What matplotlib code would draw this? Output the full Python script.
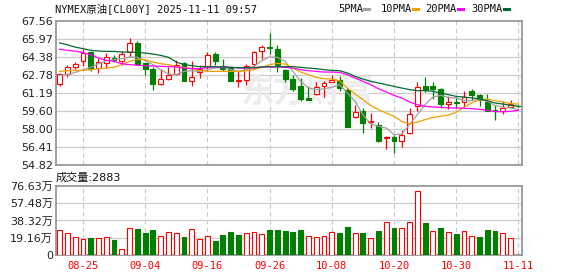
import matplotlib
matplotlib.use("Agg")
import matplotlib.pyplot as plt
from matplotlib.lines import Line2D

# ---- data (NYMEX crude, daily, last 60 sessions) ----
dates = ["08-20", "08-21", "08-22", "08-25", "08-26", "08-27", "08-28", "08-29", "09-01", "09-02",
         "09-03", "09-04", "09-05", "09-08", "09-09", "09-10", "09-11", "09-12", "09-15", "09-16",
         "09-17", "09-18", "09-19", "09-22", "09-23", "09-24", "09-25", "09-26", "09-29", "09-30",
         "10-01", "10-02", "10-03", "10-06", "10-07", "10-08", "10-09", "10-10", "10-13", "10-14",
         "10-15", "10-16", "10-17", "10-20", "10-21", "10-22", "10-23", "10-24", "10-27", "10-28",
         "10-29", "10-30", "10-31", "11-03", "11-04", "11-05", "11-06", "11-07", "11-10", "11-11"]

opens = [62.02, 62.91, 63.53, 64.00, 64.83, 63.41, 63.85, 64.30, 64.06, 64.80,
         65.63, 63.82, 63.32, 62.02, 62.46, 62.88, 63.85, 62.28, 63.05, 63.50,
         64.68, 63.62, 63.41, 62.22, 62.37, 63.76, 64.89, 65.24, 65.10, 63.20,
         62.43, 61.84, 60.75, 61.10, 61.78, 62.14, 62.34, 61.49, 59.03, 59.62,
         58.64, 58.32, 57.19, 57.28, 56.96, 57.64, 60.00, 61.78, 61.78, 61.55,
         60.24, 60.36, 60.36, 61.34, 60.98, 60.39, 59.71, 59.62, 59.98, 60.04]
highs = [62.97, 63.71, 63.97, 65.13, 64.89, 64.30, 64.71, 64.59, 64.89, 66.07,
         65.78, 63.88, 63.50, 63.35, 63.50, 64.15, 63.91, 64.00, 63.65, 64.83,
         64.80, 64.21, 63.47, 63.11, 63.76, 64.95, 65.42, 66.52, 65.48, 63.35,
         62.79, 62.52, 61.84, 62.14, 62.22, 62.82, 62.67, 61.63, 60.09, 59.86,
         59.41, 58.61, 57.34, 57.43, 57.93, 59.86, 62.17, 62.58, 62.17, 61.60,
         60.95, 60.83, 61.34, 61.55, 61.10, 61.10, 60.15, 60.45, 60.57, 60.10]
lows = [61.84, 62.58, 63.35, 63.62, 63.17, 62.97, 63.41, 63.91, 63.70, 64.42,
        63.71, 62.76, 61.49, 61.93, 62.37, 62.82, 62.22, 61.78, 62.52, 63.17,
        63.71, 63.17, 62.22, 61.69, 61.93, 63.41, 64.21, 64.65, 63.02, 62.17,
        61.40, 60.45, 60.60, 61.04, 60.80, 62.14, 61.34, 58.17, 58.97, 57.64,
        58.08, 56.81, 56.22, 55.86, 56.36, 57.55, 59.62, 61.25, 60.66, 59.86,
        59.77, 59.86, 59.92, 60.60, 60.00, 59.56, 58.82, 59.32, 59.92, 59.95]
closes = [62.88, 63.47, 63.76, 64.77, 63.32, 63.91, 64.36, 64.09, 64.65, 65.60,
          63.79, 63.35, 62.02, 62.43, 62.76, 63.71, 62.28, 62.58, 63.32, 64.53,
          64.06, 63.35, 62.28, 62.37, 63.62, 64.83, 65.27, 65.16, 63.71, 62.46,
          61.57, 60.66, 60.60, 61.69, 62.08, 62.37, 61.63, 58.17, 59.47, 58.53,
          58.73, 56.96, 57.28, 56.96, 57.49, 59.32, 61.69, 61.49, 61.55, 60.21,
          60.36, 60.33, 60.83, 61.04, 60.54, 59.62, 59.56, 59.86, 60.19, 60.00]

ma5 = [62.76, 62.82, 63.02, 63.26, 63.47, 63.79, 64.06, 64.15, 64.24, 64.39,
       64.36, 64.09, 63.71, 63.26, 62.88, 62.82, 63.11, 63.17, 63.11, 63.26,
       63.41, 63.47, 63.26, 63.11, 63.26, 63.56, 64.06, 64.39, 64.36, 64.00,
       63.11, 62.23, 61.63, 61.49, 61.57, 61.69, 61.93, 61.19, 60.45, 59.27,
       58.44, 58.23, 58.08, 57.49, 57.55, 58.38, 59.27, 60.15, 60.83, 60.98,
       60.80, 60.75, 60.51, 60.51, 60.60, 60.45, 60.09, 59.92, 59.86, 59.71]
ma10 = [63.11, 63.17, 63.20, 63.20, 63.26, 63.35, 63.41, 63.47, 63.71, 64.00,
        64.18, 64.15, 63.94, 63.79, 63.71, 63.53, 63.47, 63.35, 63.20, 63.11,
        63.11, 63.11, 63.11, 63.11, 63.17, 63.26, 63.47, 63.71, 63.82, 63.76,
        63.41, 63.05, 62.82, 62.58, 62.46, 62.43, 62.28, 61.63, 61.10, 60.60,
        60.09, 59.71, 59.41, 59.12, 58.67, 58.44, 58.61, 58.82, 59.03, 59.12,
        59.24, 59.47, 59.92, 60.30, 60.60, 60.66, 60.51, 60.39, 60.24, 60.21]
ma20 = [65.07, 64.98, 64.92, 64.77, 64.59, 64.30, 64.09, 64.00, 63.79, 63.71,
        63.65, 63.62, 63.59, 63.56, 63.53, 63.50, 63.41, 63.35, 63.35, 63.47,
        63.50, 63.50, 63.47, 63.41, 63.41, 63.41, 63.50, 63.50, 63.50, 63.47,
        63.41, 63.26, 63.17, 63.11, 63.05, 63.05, 63.02, 62.82, 62.52, 62.23,
        61.93, 61.57, 61.28, 60.98, 60.75, 60.39, 60.15, 60.01, 59.95, 59.92,
        59.86, 59.86, 59.83, 59.80, 59.74, 59.65, 59.53, 59.53, 59.56, 59.65]
ma30 = [65.63, 65.48, 65.27, 65.13, 64.98, 64.92, 64.89, 64.89, 64.83, 64.83,
        64.80, 64.74, 64.65, 64.53, 64.36, 63.94, 63.71, 63.62, 63.53, 63.53,
        63.53, 63.50, 63.47, 63.44, 63.44, 63.44, 63.50, 63.53, 63.53, 63.53,
        63.53, 63.47, 63.41, 63.35, 63.26, 63.20, 63.17, 62.97, 62.67, 62.43,
        62.23, 62.08, 61.93, 61.78, 61.63, 61.49, 61.40, 61.40, 61.34, 61.19,
        61.04, 60.89, 60.83, 60.75, 60.66, 60.51, 60.30, 60.21, 60.09, 60.01]

# volume in 万 (10k lots); colour as shown on the volume bars
volume = [27.4, 24.1, 20.4, 17.5, 18.6, 18.6, 19.7, 16.4, 6.6, 30.3,
          28.5, 24.1, 27.4, 21.5, 25.2, 24.1, 19.7, 28.5, 17.5, 21.5,
          15.3, 21.9, 25.2, 21.9, 24.8, 25.9, 23.7, 27.4, 27.4, 26.3,
          25.2, 27.4, 21.5, 20.4, 21.5, 25.2, 24.1, 30.7, 24.1, 24.1,
          19.3, 26.3, 36.1, 29.6, 30.3, 36.1, 70.8, 35.0, 26.3, 29.6,
          25.2, 23.0, 26.3, 21.5, 19.7, 27.4, 26.3, 24.1, 19.3, 0.29]
vol_side = list("RRRRGRRGRRGGGRRRGRRRGGGGRRRGGGG" + "GRRRRGGRGRGRGRRRGRGRGRRGGGRRG")

price_ticks = [67.56, 65.97, 64.38, 62.78, 61.19, 59.60, 58.00, 56.41, 54.82]
vol_ticks = [0, 19.16, 38.32, 57.48, 76.63]
vol_labels = ["0", "19.16万", "38.32万", "57.48万", "76.63万"]
date_ticks = [3, 11, 19, 27, 35, 43, 51, 59]

RED, GRN = "#ff0000", "#007f00"
MA_COLORS = ["#a0a0a0", "#f0a000", "#ff00ff", "#006a35"]
MONO = ["DejaVu Sans Mono", "Noto Sans CJK SC"]
SANS = ["DejaVu Sans", "Noto Sans CJK SC"]
W, H = 578, 276

fig = plt.figure(figsize=(W / 100, H / 100), dpi=100)
axP = fig.add_axes([55.7 / W, 1 - 164.7 / H, 466.6 / W, 143.4 / H])
axV = fig.add_axes([55.7 / W, 1 - 255 / H, 466.6 / W, 69 / H], sharex=axP)

n = len(closes)
x = list(range(n))
bw = 0.62

for ax in (axP, axV):
    for s in ax.spines.values():
        s.set_color("#999999")
        s.set_linewidth(1.3)
    ax.tick_params(length=0, labelsize=8, colors="#222222", pad=2)
    for t in date_ticks:
        ax.axvline(t, color="#c8c8c8", lw=0.8, ls=(0, (4, 3)), zorder=0)
    ax.set_xlim(-0.5, n - 0.5)

# --- price panel ---
axP.set_ylim(price_ticks[-1], price_ticks[0])
axP.set_yticks(price_ticks)
axP.set_yticklabels([f"{v:.2f}" for v in price_ticks], family=SANS)
for v in price_ticks[1:-1]:
    axP.axhline(v, color="#cccccc", lw=0.9, zorder=0)
axP.tick_params(axis="x", labelbottom=False)

axP.text(23.2, 61.2, "东方财富", family=["Noto Sans CJK SC"], fontsize=24, weight="bold",
         color="#ececec", ha="left", va="center", zorder=0.5)

for i in x:
    up = closes[i] >= opens[i]
    col = RED if up else GRN
    axP.vlines(i, lows[i], highs[i], color=col, lw=0.9, zorder=2)
    lo = min(opens[i], closes[i])
    h = max(abs(closes[i] - opens[i]), 0.04)
    axP.bar(i, h, bottom=lo, width=bw, facecolor="white" if up else GRN,
            edgecolor=col, lw=0.8, zorder=3)

for ma, c in zip([ma5, ma10, ma20, ma30], MA_COLORS):
    axP.plot(x, ma, color=c, lw=0.9, zorder=4)

# --- volume panel ---
axV.set_ylim(0, vol_ticks[-1])
axV.set_yticks(vol_ticks)
axV.set_yticklabels(vol_labels, family=SANS)
for v in vol_ticks[1:-1]:
    axV.axhline(v, color="#cccccc", lw=0.9, zorder=0)
for i in x:
    up = vol_side[i] == "R"
    axV.bar(i, volume[i], width=bw, facecolor="white" if up else GRN,
            edgecolor=RED if up else GRN, lw=0.8, zorder=3)
axV.set_xticks(date_ticks)
axV.set_xticklabels([dates[t] for t in date_ticks], family=MONO, fontsize=7.5, color=RED)
axV.tick_params(axis="x", pad=4)

# --- header texts ---
fig.text(55 / W, 1 - 8.5 / H, "NYMEX原油[CL00Y] 2025-11-11 09:57", family=MONO,
         fontsize=7.5, color="#111111", va="center", ha="left")
legend_x = [338, 380.7, 425.7, 471.3]
for lx, name, c in zip(legend_x, ["5PMA", "10PMA", "20PMA", "30PMA"], MA_COLORS):
    t = fig.text(lx / W, 1 - 8.5 / H, name, family=MONO, fontsize=7.5,
                 color="#111111", va="center", ha="left")
    ex = lx + 6.05 * len(name) + 2
    fig.add_artist(Line2D([ex / W, (ex + 5) / W], [1 - 9 / H, 1 - 9 / H], color=c, lw=2.2))

fig.text(56 / W, 1 - 177.5 / H, "成交量:2883", family=SANS, fontsize=8,
         color="#111111", va="center", ha="left")

fig.savefig("out.png", dpi=100)
